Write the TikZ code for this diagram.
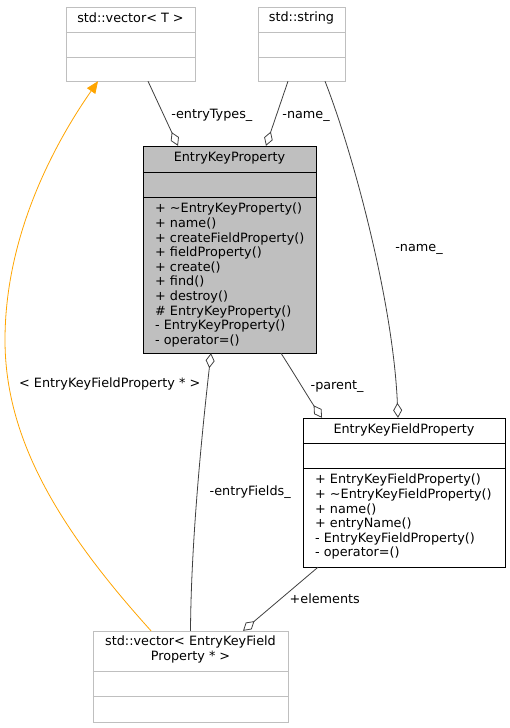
\documentclass[tikz,border=0pt]{standalone}
\usepackage{fontspec}
\setmainfont{DejaVu Sans}
\usetikzlibrary{arrows.meta}
\definecolor{grey75}{HTML}{BFBFBF}
\definecolor{grey25}{HTML}{404040}
\definecolor{boxgrey}{HTML}{BFBFBF}
\definecolor{tmplorange}{HTML}{FFA500}

\begin{document}
\begin{tikzpicture}[x=1bp,y=-1bp,
  dox/.style ={font=\fontsize{12.8bp}{14.6bp}\selectfont},
  klass/.style ={rectangle, draw=grey75, fill=white, inner sep=0pt},
  focus/.style ={rectangle, draw=black, fill=boxgrey, inner sep=0pt},
  member/.style ={dox, align=left, anchor=north west, inner sep=0pt},
  title/.style ={dox, align=center, inner sep=0pt},
  edge/.style ={draw=grey25, line width=0.8pt},
  lbl/.style ={dox, inner sep=0pt},
  agg/.tip ={Diamond[open, length=15bp, width=9bp, line width=0.8pt]}]
 \useasboundingbox[fill=white] (0,0) rectangle (510,728);
 % class boxes
 \node[klass, minimum width=129bp, minimum height=74bp] (vect) at (130.5,44) {};
 \node[klass, minimum width=87bp, minimum height=74bp] (str) at (301.5,44) {};
 \node[focus, minimum width=173bp, minimum height=207bp] (ekp) at (229.5,249.5) {};
 \node[klass, draw=black, minimum width=202bp, minimum height=149bp] (ekfp) at (404,492.5) {};
 \node[klass, minimum width=195bp, minimum height=91bp] (vecfp) at (190.5,676.5) {};
 % compartments
 \draw[grey75] (vect.west |- 0,32) -- (vect.east |- 0,32);
 \draw[grey75] (vect.west |- 0,57) -- (vect.east |- 0,57);
 \draw[grey75] (str.west |- 0,32) -- (str.east |- 0,32);
 \draw[grey75] (str.west |- 0,57) -- (str.east |- 0,57);
 \draw (ekp.west |- 0,172) -- (ekp.east |- 0,172);
 \draw (ekp.west |- 0,197) -- (ekp.east |- 0,197);
 \draw (ekfp.west |- 0,443) -- (ekfp.east |- 0,443);
 \draw (ekfp.west |- 0,468) -- (ekfp.east |- 0,468);
 \draw[grey75] (vecfp.west |- 0,671) -- (vecfp.east |- 0,671);
 \draw[grey75] (vecfp.west |- 0,696) -- (vecfp.east |- 0,696);
 % texts
 \node[title] (vecttitle) at (130.5,18) {std::vector< T >};
 \node[title] (strtitle) at (301.5,18) {std::string};
 \node[title] (ekptitle) at (229.5,158) {EntryKeyProperty};
 \node[member] (ekpops) at (155,203) {+ \textasciitilde EntryKeyProperty()\\+ name()\\+ createFieldProperty()\\+ fieldProperty()\\+ create()\\+ find()\\+ destroy()\\\# EntryKeyProperty()\\- EntryKeyProperty()\\- operator=()};
 \node[title] (ekfptitle) at (404,430) {EntryKeyFieldProperty};
 \node[member] (ekfpops) at (315,474) {+ EntryKeyFieldProperty()\\+ \textasciitilde EntryKeyFieldProperty()\\+ name()\\+ entryName()\\- EntryKeyFieldProperty()\\- operator=()};
 \node[title] (vecfptitle) at (190.5,649.5) {std::vector< EntryKeyField\\Property * >};
 % connectors
 \draw[edge, -{agg}] ([xshift=17.5bp]vect.south) -- node[lbl, anchor=west, pos=0.5, xshift=8bp, yshift=-2bp] (l1) {-entryTypes\_} ([xshift=-51.5bp]ekp.north);
 \draw[edge, -{agg}] ([xshift=-13.5bp]str.south) -- node[lbl, anchor=west, pos=0.5, xshift=5bp, yshift=-3bp] (l2) {-name\_} ([xshift=36.5bp]ekp.north);
 \draw[edge, -{agg}] ([xshift=23.5bp]str.south) .. controls (352,150) and (393,300) .. node[lbl, pos=0.55, anchor=west, xshift=21bp] (l3) {-name\_} ([xshift=-6bp]ekfp.north);
 \draw[edge, -{agg}] ([xshift=51.5bp]ekp.south) .. controls (295,375) and (310,400) .. node[lbl, pos=0.5, anchor=west, xshift=8bp] (l4) {-parent\_} ([xshift=-82bp]ekfp.north);
 \draw[edge, {agg}-] ([xshift=-18.5bp]ekp.south) .. controls (200,450) and (191,550) .. node[lbl, pos=0.48, anchor=west, xshift=12bp] (l5) {-entryFields\_} (vecfp.north);
 \draw[edge, -{agg}] ([xshift=-86bp]ekfp.south) -- node[lbl, anchor=west, pos=0.45, xshift=5bp, yshift=-3bp] (l6) {+elements} ([xshift=52.5bp]vecfp.north);
 \draw[tmplorange, line width=0.8pt, -{Triangle[length=12bp, width=10bp]}] ([xshift=-39.5bp]vecfp.north) .. controls (60,530) and (5,440) .. (5,340) .. controls (5,240) and (50,150) .. ([xshift=-32.5bp]vect.south);
 \node[lbl, anchor=west] (l7) at (19,384) {< EntryKeyFieldProperty * >};
\end{tikzpicture}
\end{document}
